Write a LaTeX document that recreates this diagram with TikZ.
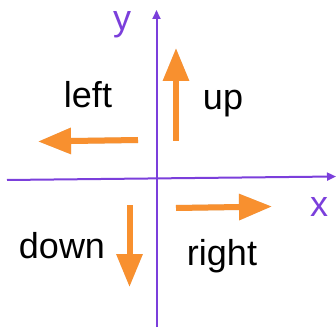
\documentclass[tikz,border=0pt]{standalone}
\usepackage{fontspec}
\setmainfont{Liberation Sans}
\usetikzlibrary{arrows.meta}
\definecolor{axiscol}{HTML}{7B3FDB}
\definecolor{orng}{HTML}{F8902F}
\begin{document}
\begin{tikzpicture}[x=1pt,y=-1pt,
 axisline/.style={draw=axiscol,line width=2pt,-{Triangle[length=9pt,width=8pt]}},
 movearrow/.style={draw=orng,line width=6pt,-{Triangle[length=33pt,width=25pt]}},
 shadowarrow/.style={draw=black,opacity=0.12,line width=6pt,-{Triangle[length=33pt,width=25pt]}},
 lbl/.style={inner sep=0,anchor=base,font=\fontsize{36}{40}\selectfont},
 axlbl/.style={lbl,text=axiscol}]
\useasboundingbox (0,0) rectangle (336,328);
% axes
\coordinate (xs) at (7,180);
\coordinate (xe) at (336,176.5);
\coordinate (ys) at (156.5,327);
\coordinate (ye) at (156.5,10);
\draw[axisline] (xs) -- (xe);
\draw[axisline] (ys) -- (ye);
\node[axlbl] (ylab) at (122,31) {y};
\node[axlbl] (xlab) at (319,216) {x};
% arrow end points
\coordinate (upS) at (176,141);
\coordinate (upE) at (176,48);
\coordinate (leftS) at (138,140);
\coordinate (leftE) at (38,141.5);
\coordinate (rightS) at (176,208);
\coordinate (rightE) at (272,206.5);
\coordinate (downS) at (129.5,205);
\coordinate (downE) at (129.5,287);
% shadows
\begin{scope}[shift={(2,2.5)}]
\draw[shadowarrow] (upS) -- (upE);
\draw[shadowarrow] (leftS) -- (leftE);
\draw[shadowarrow] (rightS) -- (rightE);
\draw[shadowarrow] (downS) -- (downE);
\end{scope}
\draw[movearrow] (upS) -- (upE);
\draw[movearrow] (leftS) -- (leftE);
\draw[movearrow] (rightS) -- (rightE);
\draw[movearrow] (downS) -- (downE);
% labels
\node[lbl] (left) at (88,108) {left};
\node[lbl] (up) at (223,110) {up};
\node[lbl] (down) at (62,258) {down};
\node[lbl] (right) at (222,265) {right};
\end{tikzpicture}
\end{document}
